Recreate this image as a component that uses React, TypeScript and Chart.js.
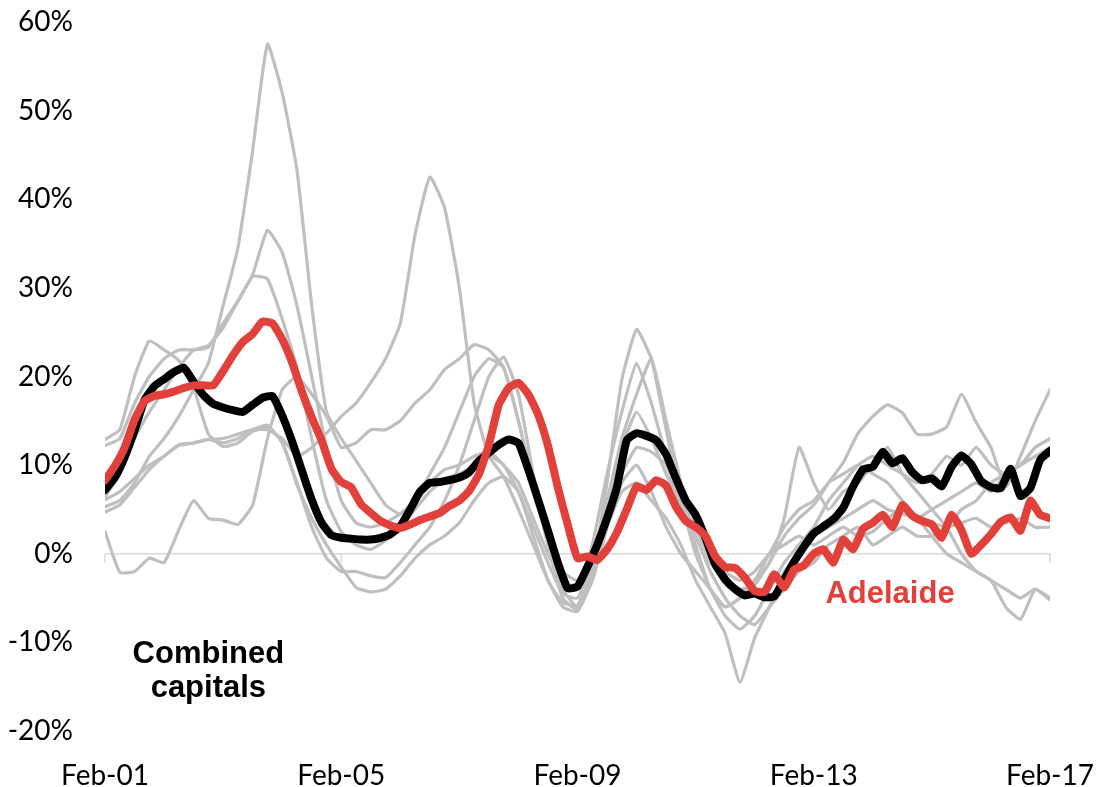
import React, { useEffect, useRef } from 'react';
import { Chart, registerables } from 'chart.js';

Chart.register(...registerables);

// ---- data ----
const MAIN_STEP = 2; // months between points for highlighted series
const CITY_STEP = 3; // months between points for the other capitals

const xTickMonths = [0, 48, 96, 144, 192];
const xTickLabels = ['Feb-01', 'Feb-05', 'Feb-09', 'Feb-13', 'Feb-17'];

const combinedCapitals = [
  7.2, 8.6, 10.9, 13.9, 17.3, 18.9, 19.7, 20.5, 21.0, 19.4,
  17.9, 16.9, 16.5, 16.2, 16.0, 16.8, 17.6, 17.8, 15.6, 12.7,
  9.4, 6.1, 3.5, 2.1, 1.8, 1.7, 1.6, 1.6, 1.8, 2.2,
  3.1, 5.0, 7.0, 8.0, 8.1, 8.3, 8.6, 9.2, 10.5, 11.4,
  12.3, 12.9, 12.5, 9.5, 6.1, 2.6, -1.0, -3.9, -3.7, -1.5,
  1.0, 4.0, 7.5, 12.8, 13.6, 13.3, 12.8, 11.2, 8.5, 6.0,
  4.4, 1.8, -1.2, -2.9, -4.0, -4.7, -4.5, -4.9, -4.8, -2.9,
  -0.9, 0.8, 2.3, 3.1, 3.9, 5.2, 7.6, 9.5, 9.8, 11.5,
  10.2, 10.8, 9.2, 8.3, 8.5, 7.6, 9.8, 11.1, 10.1, 8.2,
  7.5, 7.4, 9.6, 6.5, 7.4, 10.6, 11.6,
];

const adelaide = [
  8.3, 9.9, 12.0, 15.1, 17.2, 17.8, 18.0, 18.3, 18.7, 19.0,
  19.0, 19.0, 20.6, 22.4, 23.9, 24.8, 26.2, 26.0, 24.2, 21.6,
  18.3, 15.4, 12.8, 9.6, 8.1, 7.5, 5.6, 4.6, 3.7, 3.2,
  2.9, 3.3, 3.8, 4.2, 4.6, 5.4, 6.0, 7.1, 9.0, 12.3,
  16.8, 18.7, 19.3, 18.0, 15.7, 12.2, 7.5, 3.3, -0.5, -0.3,
  -0.7, 0.5, 2.4, 5.0, 7.6, 7.2, 8.3, 7.7, 5.3, 3.7,
  3.0, 2.0, -0.3, -1.5, -1.6, -2.7, -4.2, -4.3, -2.3, -3.8,
  -1.8, -1.3, 0.0, 0.5, -1.0, 1.6, 0.5, 2.8, 3.5, 4.4,
  3.0, 5.5, 4.3, 3.7, 3.3, 1.8, 4.4, 2.7, 0.0, 1.0,
  2.2, 3.6, 4.1, 2.6, 6.0, 4.4, 4.0,
];

const sydney = [
  12.9, 14.0, 20.0, 24.0, 23.0, 21.8, 18.7, 13.5, 12.1, 12.5,
  13.8, 14.2, 12.7, 7.8, 4.0, 1.0, -1.5, -3.8, -4.3, -4.0,
  -2.5, -0.5, 1.0, 2.0, 3.5, 6.0, 8.0, 8.7, 7.0, 2.0,
  -3.0, -5.5, -5.8, -2.0, 4.0, 9.0, 12.0, 11.5, 10.0, 6.0,
  3.0, -1.0, -3.0, -4.0, -3.5, -1.0, 2.0, 4.0, 5.5, 8.0,
  10.3, 13.6, 15.5, 16.8, 15.9, 13.5, 13.5, 14.3, 18.0, 14.8,
  12.0, 7.5, 11.0, 15.0, 18.5,
];

const canberra = [
  12.2, 13.0, 17.0, 20.0, 22.0, 23.0, 23.0, 23.3, 26.0, 28.5,
  31.3, 31.0, 26.5, 21.0, 13.0, 6.0, 2.5, 1.0, 0.5, 1.5,
  3.0, 5.0, 7.0, 8.5, 9.0, 10.0, 11.0, 10.0, 7.0, 3.0,
  -1.0, -4.5, -5.0, -1.0, 5.0, 12.0, 16.0, 13.0, 9.0, 6.0,
  4.0, 1.0, -2.0, -3.0, -2.0, 0.0, 1.0, 2.0, 1.0, 2.0,
  3.0, 2.0, 2.5, 4.0, 5.0, 4.0, 5.0, 6.0, 7.0, 8.0,
  7.0, 9.0, 10.0, 12.0, 13.0,
];

const brisbane = [
  6.4, 9.0, 13.0, 16.0, 18.5, 21.0, 23.0, 23.5, 25.5, 28.5,
  31.5, 36.5, 34.0, 28.0, 20.0, 12.0, 6.0, 3.5, 3.0, 3.5,
  4.5, 6.0, 9.0, 12.0, 16.0, 20.0, 22.0, 21.0, 15.0, 8.0,
  1.0, -4.0, -6.0, -3.0, 3.0, 7.0, 8.0, 6.0, 4.0, 1.0,
  -3.0, -6.0, -9.0, -14.5, -9.5, -6.0, -2.0, 0.0, 2.0, 3.0,
  4.0, 5.0, 6.0, 5.0, 4.5, 4.0, 3.5, 3.0, 3.5, 4.0,
  3.0, 3.5, 4.0, 3.0, 3.0,
];

const hobart = [
  5.3, 6.0, 8.0, 11.0, 13.0, 15.5, 18.5, 21.5, 28.0, 34.5,
  45.5, 57.5, 52.0, 43.3, 28.0, 16.0, 13.0, 10.5, 8.0, 5.5,
  4.5, 6.0, 8.0, 9.5, 10.0, 11.0, 11.5, 10.0, 8.0, 4.0,
  0.0, -3.0, -4.0, 1.0, 9.0, 16.0, 21.5, 17.0, 11.0, 5.0,
  2.0, -2.0, -5.0, -7.0, -8.0, -6.0, -4.0, -2.0, -1.0, 1.0,
  2.0, 3.0, 1.0, 2.0, 3.0, 2.0, 2.0, 3.0, 5.0, 6.0,
  8.0, 9.0, 10.0, 11.0, 12.0,
];

const perth = [
  6.1, 7.0, 8.5, 10.0, 11.0, 12.3, 12.5, 12.9, 13.0, 13.5,
  14.0, 14.0, 13.0, 11.0, 12.0, 13.6, 15.5, 17.0, 19.3, 22.0,
  26.0, 36.0, 42.5, 39.0, 30.0, 17.0, 11.0, 8.7, 5.0, 1.0,
  -3.0, -6.0, -6.5, -3.0, 3.0, 8.0, 10.0, 7.0, 3.0, 0.0,
  -2.0, -4.0, -6.0, -5.0, -3.0, 0.0, 3.0, 5.0, 6.0, 8.0,
  9.0, 10.0, 9.0, 8.0, 6.0, 4.0, 2.0, 0.0, -1.0, -2.0,
  -3.0, -4.0, -5.0, -4.0, -5.2,
];

const darwin = [
  2.5, -2.1, -2.0, -0.5, -1.0, 2.7, 6.0, 4.0, 3.8, 3.3,
  5.5, 13.0, 18.5, 20.0, 18.0, 15.5, 12.0, 12.5, 14.0, 14.0,
  15.0, 17.0, 18.5, 20.8, 22.0, 23.6, 23.0, 21.0, 15.0, 8.0,
  2.0, -2.0, -3.0, 0.0, 6.0, 13.0, 18.0, 22.0, 15.0, 8.0,
  1.0, -4.0, -6.0, -5.0, -3.0, -1.0, 4.0, 12.0, 8.0, 5.0,
  7.0, 8.0, 10.0, 12.0, 9.0, 7.0, 5.0, 3.0, 0.0, -2.0,
  -3.0, -6.0, -7.4, -4.0, -5.0,
];

const melbourne = [
  4.7, 5.5, 7.5, 9.5, 11.0, 12.2, 12.5, 12.9, 12.5, 13.0,
  14.0, 14.5, 12.5, 8.0, 3.0, -0.5, -2.0, -2.0, -2.5, -2.7,
  -1.0, 1.0, 3.0, 6.0, 10.0, 15.0, 20.0, 22.2, 18.0, 9.0,
  1.0, -5.0, -6.3, -2.0, 8.0, 19.6, 25.3, 22.0, 14.0, 6.0,
  0.0, -4.0, -7.0, -8.5, -7.0, -4.0, -1.0, 1.0, 3.0, 6.0,
  8.0, 10.0, 11.0, 10.0, 9.0, 8.0, 9.0, 11.0, 10.0, 12.0,
  10.0, 9.0, 10.0, 12.0, 13.0,
];

const otherCapitalNames = ['Sydney', 'Melbourne', 'Brisbane', 'Perth', 'Hobart', 'Darwin', 'Canberra'];
const otherCapitalValues = [sydney, melbourne, brisbane, perth, hobart, darwin, canberra];

// annotation anchors in data units (month index, %)
const combinedLabelLines = ['Combined', 'capitals'];
const combinedLabelAnchor = [21, -12.3];
const adelaideLabel = 'Adelaide';
const adelaideLabelAnchor = [159.5, -5.6];

const GRAY = '#bfbfbf';
const RED = '#e2403a';
const TICK_FONT = { family: 'Lato, "Noto Sans", sans-serif', size: 28 };

export default function App() {
  const canvasRef = useRef<HTMLCanvasElement>(null);

  useEffect(() => {
    if (!canvasRef.current) return;
    const toPoints = (arr: number[], step: number) => arr.map((v, i) => ({ x: i * step, y: v }));

    const decor = {
      id: 'decor',
      beforeDatasetsDraw(chart: any) {
        const { ctx, scales } = chart;
        const y0 = scales.y.getPixelForValue(0);
        ctx.save();
        ctx.strokeStyle = '#d9d9d9';
        ctx.lineWidth = 1.5;
        xTickMonths.forEach((m) => {
          const px = scales.x.getPixelForValue(m);
          ctx.beginPath();
          ctx.moveTo(px, y0);
          ctx.lineTo(px, y0 + 9);
          ctx.stroke();
        });
        ctx.restore();
      },
      afterDatasetsDraw(chart: any) {
        const { ctx, scales } = chart;
        ctx.save();
        ctx.textAlign = 'center';
        ctx.textBaseline = 'alphabetic';
        ctx.font = 'bold 31px "Liberation Sans", Arial, sans-serif';
        ctx.fillStyle = '#000';
        const cx = scales.x.getPixelForValue(combinedLabelAnchor[0]);
        const cy = scales.y.getPixelForValue(combinedLabelAnchor[1]);
        combinedLabelLines.forEach((t, i) => ctx.fillText(t, cx, cy + i * 34));
        ctx.fillStyle = RED;
        ctx.fillText(
          adelaideLabel,
          scales.x.getPixelForValue(adelaideLabelAnchor[0]),
          scales.y.getPixelForValue(adelaideLabelAnchor[1])
        );
        ctx.restore();
      },
    };

    const common = {
      pointRadius: 0,
      tension: 0.15,
      borderJoinStyle: 'round',
      borderCapStyle: 'round',
    };

    const datasets: any[] = [
      {
        ...common,
        label: 'Adelaide',
        data: toPoints(adelaide, MAIN_STEP),
        borderColor: RED,
        borderWidth: 8,
        order: 0,
      },
      {
        ...common,
        label: 'Combined capitals',
        data: toPoints(combinedCapitals, MAIN_STEP),
        borderColor: '#000',
        borderWidth: 8,
        order: 1,
      },
      ...otherCapitalValues.map((vals, i) => ({
        ...common,
        label: otherCapitalNames[i],
        data: toPoints(vals, CITY_STEP),
        borderColor: GRAY,
        borderWidth: 3.2,
        order: 2,
      })),
    ];

    const chart = new Chart(canvasRef.current, {
      type: 'line',
      data: { datasets },
      options: {
        animation: false,
        responsive: true,
        maintainAspectRatio: false,
        layout: { padding: { top: 22, right: 49, left: 0, bottom: 0 } },
        plugins: { legend: { display: false }, tooltip: { enabled: false } },
        scales: {
          x: {
            type: 'linear',
            min: 0,
            max: 192,
            afterBuildTicks: (scale: any) => {
              scale.ticks = xTickMonths.map((v) => ({ value: v }));
            },
            afterFit: (scale: any) => {
              scale.height = 56;
              scale.paddingLeft = 0;
              scale.paddingRight = 0;
            },
            ticks: {
              autoSkip: false,
              maxRotation: 0,
              padding: 20,
              color: '#000',
              font: TICK_FONT,
              callback: (v: any) => xTickLabels[xTickMonths.indexOf(Number(v))] ?? '',
            },
            grid: { display: false },
            border: { display: false },
          },
          y: {
            min: -20,
            max: 60,
            afterFit: (scale: any) => {
              scale.width = 105;
              scale.paddingTop = 0;
              scale.paddingBottom = 0;
            },
            ticks: {
              stepSize: 10,
              padding: 32,
              color: '#000',
              font: TICK_FONT,
              callback: (v: any) => `${v}%`,
            },
            grid: {
              drawTicks: false,
              lineWidth: 1.5,
              color: (c: any) => (c.tick && c.tick.value === 0 ? '#d9d9d9' : 'rgba(0,0,0,0)'),
            },
            border: { display: false },
          },
        },
      },
      plugins: [decor],
    });

    return () => chart.destroy();
  }, []);

  return (
    <div style={{ position: 'fixed', left: 0, top: 0, width: 1099, height: 787, background: '#fff' }}>
      <canvas ref={canvasRef} />
    </div>
  );
}
